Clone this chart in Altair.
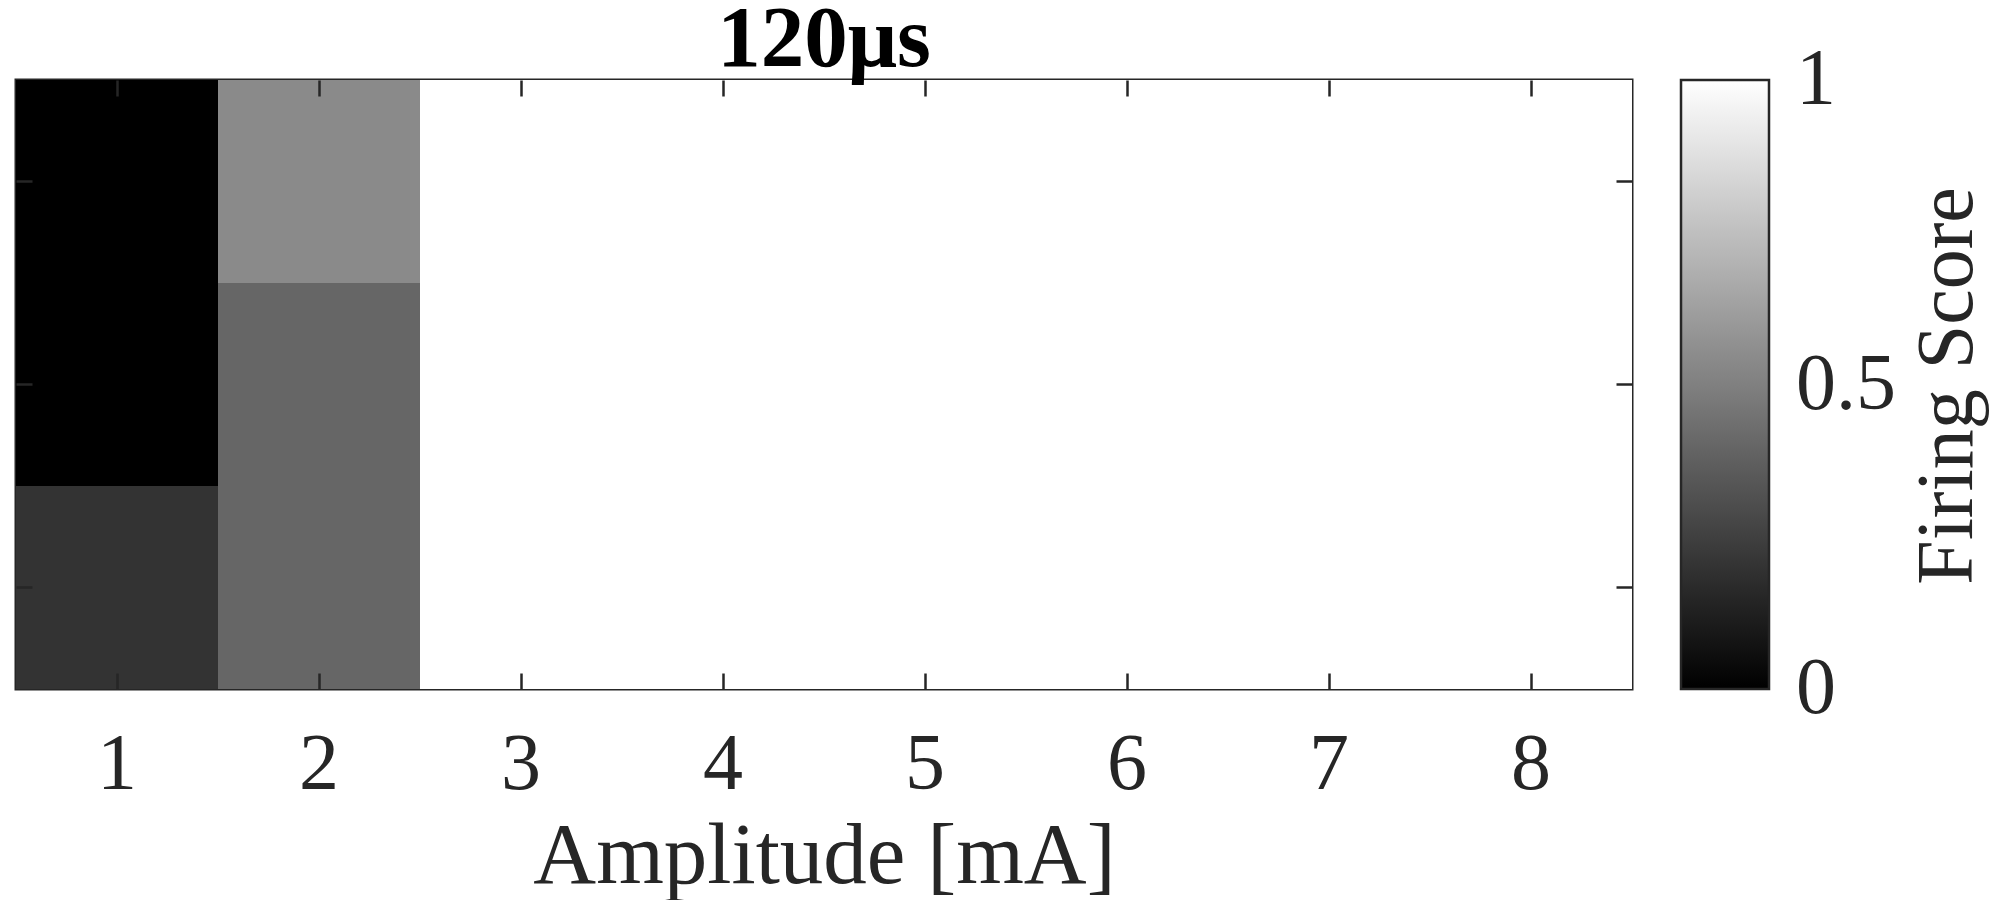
import altair as alt
import pandas as pd

# ---- data ----
amplitudes = [1, 2, 3, 4, 5, 6, 7, 8]
rows = [1, 2, 3]  # top to bottom
scores_row1 = [0.00, 0.54, 1, 1, 1, 1, 1, 1]
scores_row2 = [0.00, 0.40, 1, 1, 1, 1, 1, 1]
scores_row3 = [0.20, 0.40, 1, 1, 1, 1, 1, 1]
legend_values = [0.0005, 0.5, 0.9995]   # shown as 0, 0.5, 1
colorbar_label = ["Firing Score"]
chart_title = ["120μs"]

records = []
for r, vals in zip(rows, [scores_row1, scores_row2, scores_row3]):
    for a, v in zip(amplitudes, vals):
        records.append({"amp": a, "row": r, "score": v})
df = pd.DataFrame(records)

FONT = "Liberation Serif"
AX = "#262626"
W, H = 1616, 609

x_scale = alt.Scale(paddingInner=0, paddingOuter=0)
y_scale = alt.Scale(paddingInner=0, paddingOuter=0)
gray = alt.Scale(domain=[0, 1], range=["#000000", "#ffffff"], interpolate="rgb")

tick_common = dict(offset=-16, tickSize=16, tickWidth=2.5, tickColor=AX,
                   domain=False, grid=False, zindex=1)

base = alt.Chart(df)

heat = base.mark_rect().encode(
    x=alt.X("amp:O", scale=x_scale,
            axis=alt.Axis(orient="bottom", title="Amplitude [mA]", labelAngle=0,
                          labelFont=FONT, labelFontSize=80, labelColor=AX,
                          labelPadding=36, titleFont=FONT, titleFontSize=87,
                          titleFontWeight="normal", titleColor=AX,
                          titleBaseline="alphabetic", titleY=209, **tick_common)),
    y=alt.Y("row:O", scale=y_scale,
            axis=alt.Axis(orient="left", title=None, labels=False, **tick_common)),
    color=alt.Color("score:Q", scale=gray,
                    legend=alt.Legend(title=None, orient="right", type="gradient",
                                      direction="vertical", offset=47, padding=0,
                                      gradientLength=H, gradientThickness=88,
                                      gradientStrokeColor=AX, gradientStrokeWidth=2.5,
                                      values=legend_values, format=".1~f",
                                      labelFont=FONT, labelFontSize=80, labelColor=AX,
                                      labelOffset=27, labelBaseline="middle",
                                      labelOverlap=False)),
)

mirror = base.mark_rect(opacity=0).encode(
    x=alt.X("amp:O", scale=x_scale,
            axis=alt.Axis(orient="top", title=None, labels=False, **tick_common)),
    y=alt.Y("row:O", scale=y_scale,
            axis=alt.Axis(orient="right", title=None, labels=False, **tick_common)),
)

cb_title = alt.Chart(pd.DataFrame({"t": colorbar_label})).mark_text(
    angle=270, align="center", baseline="alphabetic", font=FONT, fontSize=80,
    color=AX,
).encode(text="t:N", x=alt.value(1956), y=alt.value(306))

top_title = alt.Chart(pd.DataFrame({"t": chart_title})).mark_text(
    align="center", baseline="alphabetic", font=FONT, fontSize=87,
    fontWeight="bold", color="black",
).encode(text="t:N", x=alt.value(W / 2), y=alt.value(-14))

chart = alt.layer(heat, mirror, cb_title, top_title).resolve_axis(
    x="independent", y="independent"
).properties(
    width=W, height=H,
    autosize=alt.AutoSizeParams(type="none"),
    padding={"left": 8, "top": 72, "right": 360, "bottom": 211},
).configure_view(stroke=AX, strokeWidth=3)

chart.save("out.html", embed_options={"renderer": "svg", "actions": False})
